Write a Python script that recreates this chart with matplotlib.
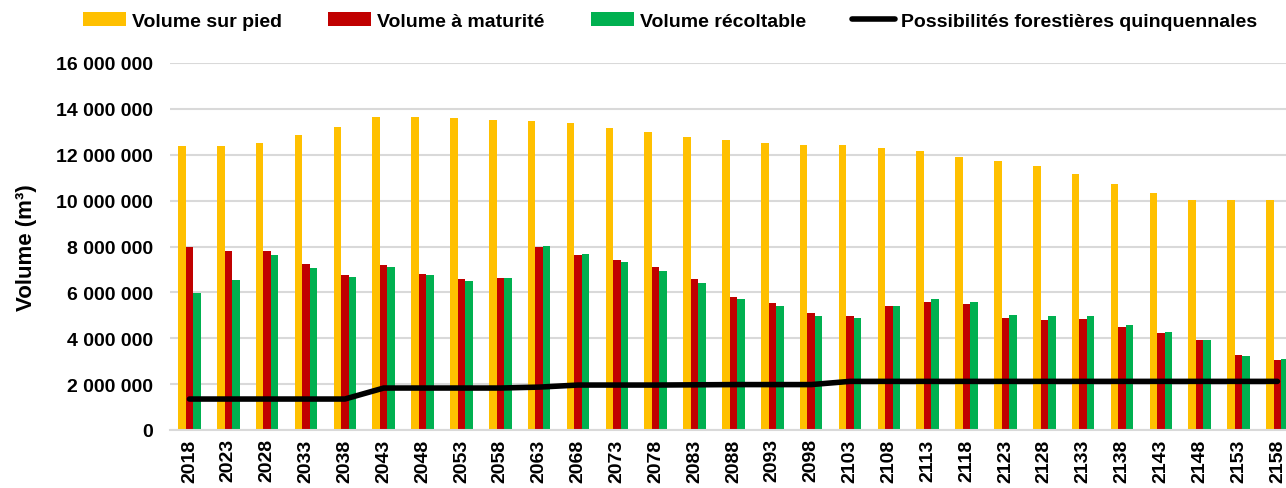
import matplotlib
matplotlib.use("Agg")
import matplotlib.pyplot as plt
import numpy as np

years = [str(y) for y in range(2018, 2159, 5)]
vol_sur_pied = [12.39, 12.39, 12.51, 12.85, 13.22, 13.64, 13.63, 13.60, 13.51, 13.48,
                13.40, 13.18, 12.98, 12.77, 12.64, 12.51, 12.42, 12.42, 12.29, 12.15,
                11.92, 11.71, 11.51, 11.16, 10.72, 10.32, 10.03, 10.03, 10.03]
vol_maturite = [7.96, 7.79, 7.82, 7.24, 6.76, 7.21, 6.81, 6.58, 6.61, 7.96,
                7.64, 7.40, 7.11, 6.58, 5.78, 5.54, 5.10, 4.98, 5.41, 5.58,
                5.48, 4.88, 4.78, 4.84, 4.49, 4.21, 3.91, 3.27, 3.06]
vol_recoltable = [5.99, 6.55, 7.63, 7.05, 6.67, 7.11, 6.77, 6.51, 6.61, 8.01,
                  7.67, 7.32, 6.93, 6.42, 5.70, 5.41, 4.97, 4.88, 5.41, 5.70,
                  5.57, 5.00, 4.96, 4.96, 4.58, 4.27, 3.92, 3.23, 3.08]
possibilites = [1.35, 1.35, 1.35, 1.35, 1.35, 1.83, 1.83, 1.83, 1.83, 1.87,
                1.96, 1.96, 1.96, 1.97, 1.98, 1.98, 1.98, 2.12, 2.12, 2.12,
                2.12, 2.12, 2.12, 2.12, 2.12, 2.12, 2.12, 2.12, 2.12]
yticks = [0, 2e6, 4e6, 6e6, 8e6, 10e6, 12e6, 14e6, 16e6]

M = 1e6
plt.rcParams['font.family'] = ['Liberation Sans', 'DejaVu Sans']
plt.rcParams['font.weight'] = 'bold'

fig = plt.figure(figsize=(12.86, 4.89), dpi=100)
ax = fig.add_axes([170 / 1286, (489 - 431) / 489, 1 - 170 / 1286, (431 - 64) / 489])

x = np.arange(len(years))
w = 0.193
b1 = ax.bar(x - w, np.array(vol_sur_pied) * M, w, color='#FFC000', label='Volume sur pied', zorder=2)
b2 = ax.bar(x, np.array(vol_maturite) * M, w, color='#C00000', label='Volume à maturité', zorder=2)
b3 = ax.bar(x + w, np.array(vol_recoltable) * M, w, color='#00B050', label='Volume récoltable', zorder=2)
l1, = ax.plot(x, np.array(possibilites) * M, color='black', lw=4, solid_capstyle='round',
              label='Possibilités forestières quinquennales', zorder=3)

ax.set_xlim(-0.5, 28.22)
ax.set_ylim(0, 16e6)
ax.set_yticks(yticks)
ax.set_yticklabels([f"{int(v):,}".replace(",", " ") for v in yticks])
ax.set_xticks(x)
ax.set_xticklabels(years, rotation=90)
ax.tick_params(axis='both', length=0, labelsize=14)
ax.tick_params(axis='y', pad=12)
ax.tick_params(axis='x', pad=6)
for lab in ax.get_xticklabels() + ax.get_yticklabels():
    lab.set_fontweight('bold')

ax.grid(axis='y', color='#D9D9D9', lw=1.5, zorder=0)
ax.set_axisbelow(True)
for s in ['top', 'right', 'left']:
    ax.spines[s].set_visible(False)
ax.spines['bottom'].set_color('#D9D9D9')
ax.spines['bottom'].set_linewidth(1.5)

ax.set_ylabel('Volume (m³)', fontsize=16, fontweight='bold', labelpad=14)

fig.legend(handles=[b1, b2, b3, l1], loc='center', bbox_to_anchor=(670 / 1286, 1 - 22 / 489),
           ncol=4, frameon=False, prop={'size': 14, 'weight': 'bold'}, handlelength=2.2,
           handletextpad=0.3, columnspacing=2.4, handleheight=0.7)

fig.savefig('out.png', dpi=100)
